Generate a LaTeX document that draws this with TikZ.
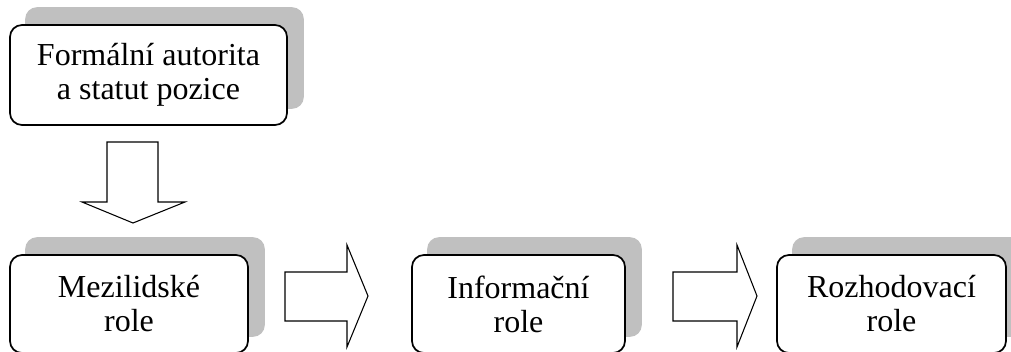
\documentclass[tikz,border=0pt]{standalone}
\usepackage{fontspec}
\setmainfont{Liberation Serif}
\usetikzlibrary{backgrounds}
\definecolor{shadowgray}{RGB}{192,192,192}
\begin{document}
\begin{tikzpicture}[x=0.75pt,y=-0.75pt,
  rolebox/.style={draw=black, line width=1.3pt, fill=white, rounded corners=9pt,
    minimum height=75pt, align=center, inner sep=0pt,
    font=\fontsize{24}{25.5}\selectfont},
  shadowfill/.style={fill=shadowgray, rounded corners=9pt},
  blockarrow/.style={draw=black, line width=0.8pt, fill=white, line join=miter}]
\useasboundingbox (0,0) rectangle (1011,351);

\node[rolebox, minimum width=207.75pt] (formal) at (148.5,75) {Formální autorita\\a statut pozice};
\node[rolebox, minimum width=178.5pt, minimum height=73.5pt] (mezi) at (129,304) {Mezilidské\\role};
\node[rolebox, minimum width=159.75pt, minimum height=73.5pt] (info) at (518.5,304) {Informační\\role};
\node[rolebox, minimum width=171.75pt, minimum height=73.5pt] (rozh) at (891.5,304) {Rozhodovací\\role};

\begin{pgfonlayer}{background}
  \foreach \n in {formal,mezi,info,rozh}{
    \fill[shadowfill] ([shift={(16,-17)}]\n.north west) rectangle ([shift={(16,-17)}]\n.south east);
  }
\end{pgfonlayer}

% down block arrow
\draw[blockarrow] (107,142) -- (158,142) -- (158,202) -- (185,202) -- (133,223) -- (82,202) -- (107,202) -- cycle;
% right block arrows
\draw[blockarrow] (285,272) -- (347,272) -- (347,245) -- (368,296) -- (347,347) -- (347,321) -- (285,321) -- cycle;
\draw[blockarrow] (673,272) -- (737,272) -- (737,245) -- (757,296) -- (737,347) -- (737,321) -- (673,321) -- cycle;
\end{tikzpicture}
\end{document}
